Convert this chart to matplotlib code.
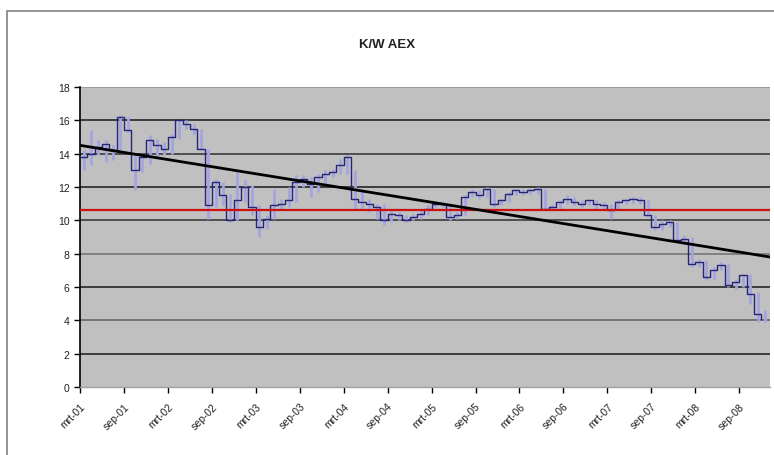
import matplotlib
matplotlib.use("Agg")
import matplotlib.pyplot as plt
from matplotlib.patches import Rectangle
import numpy as np

plt.rcParams['font.family'] = ['Liberation Sans', 'DejaVu Sans']

title = "K/W AEX"
tick_labels = ["mrt-01", "sep-01", "mrt-02", "sep-02", "mrt-03", "sep-03",
               "mrt-04", "sep-04", "mrt-05", "sep-05", "mrt-06", "sep-06",
               "mrt-07", "sep-07", "mrt-08", "sep-08"]

# monthly values, Mar 2001 .. Dec 2008
closes = [13.8, 14.0, 14.4, 14.6, 14.2, 16.2, 15.4, 13.0, 13.8, 14.8,
          14.5, 14.3, 15.0, 16.0, 15.8, 15.5, 14.3, 10.9, 12.3, 11.5,
          10.0, 11.2, 12.0, 10.8, 9.6, 10.1, 10.9, 11.0, 11.2, 12.3,
          12.5, 12.2, 12.6, 12.8, 12.9, 13.3, 13.8, 11.3, 11.1, 11.0,
          10.8, 10.0, 10.4, 10.3, 10.0, 10.2, 10.4, 10.7, 11.0, 11.0,
          10.2, 10.3, 11.4, 11.7, 11.5, 11.9, 11.0, 11.2, 11.6, 11.8,
          11.7, 11.8, 11.9, 10.7, 10.8, 11.1, 11.3, 11.1, 11.0, 11.2,
          11.0, 10.9, 10.6, 11.1, 11.2, 11.3, 11.2, 10.3, 9.6, 9.8,
          9.9, 8.8, 8.9, 7.4, 7.5, 6.6, 7.0, 7.3, 6.1, 6.3,
          6.7, 5.6, 4.4, 4.1]
highs = [14.2, 15.4, 14.8, 14.8, 14.5, 16.3, 16.2, 13.9, 14.0, 15.1,
         14.9, 14.7, 15.2, 16.0, 16.0, 15.8, 15.5, 14.3, 12.5, 12.3,
         11.6, 13.0, 12.4, 12.1, 10.9, 10.3, 11.9, 11.3, 12.0, 12.7,
         12.7, 12.6, 12.8, 13.0, 13.1, 13.7, 13.9, 13.0, 11.9, 11.3,
         11.0, 11.0, 10.6, 10.5, 10.3, 10.4, 10.6, 10.9, 11.1, 11.1,
         11.0, 10.5, 11.5, 11.9, 11.8, 12.0, 11.9, 11.3, 11.7, 11.9,
         11.9, 11.9, 12.0, 11.9, 11.0, 11.2, 11.5, 11.4, 11.2, 11.3,
         11.2, 11.1, 11.0, 11.2, 11.3, 11.4, 11.4, 11.2, 10.3, 10.0,
         10.0, 9.9, 9.1, 9.0, 7.7, 7.6, 7.2, 7.5, 7.4, 6.5,
         6.8, 6.8, 5.7, 4.6]
lows = [13.0, 13.3, 13.9, 13.5, 13.6, 14.1, 15.3, 11.8, 12.9, 13.4,
        13.7, 13.9, 14.0, 14.9, 15.5, 15.2, 14.2, 10.1, 10.8, 10.9,
        9.9, 10.0, 11.1, 10.3, 9.0, 9.5, 10.1, 10.7, 10.8, 11.1,
        12.0, 11.4, 11.7, 12.2, 12.6, 12.8, 12.8, 10.7, 10.7, 10.5,
        10.1, 9.7, 9.9, 10.0, 9.9, 10.0, 10.1, 10.3, 10.8, 10.8,
        10.0, 10.1, 10.3, 11.4, 11.3, 11.4, 10.8, 10.9, 11.1, 11.5,
        11.5, 11.6, 11.6, 10.6, 10.6, 10.7, 11.0, 10.9, 10.8, 10.9,
        10.7, 10.6, 10.1, 10.7, 11.0, 11.0, 11.0, 10.2, 9.4, 9.4,
        9.6, 8.7, 8.6, 7.2, 7.2, 6.4, 6.5, 7.0, 6.0, 5.9,
        6.0, 5.0, 3.9, 3.9]

mean_level = 10.65
trend_start = 14.5
trend_end = 7.8

fig = plt.figure(figsize=(7.74, 4.56), dpi=100)
fig.patch.set_facecolor('white')
# outer chart border
fig.patches.append(Rectangle((7/774, -0.05), 1.0, 1 - 12/456 + 0.05,
                             transform=fig.transFigure, fill=False,
                             edgecolor='#808080', linewidth=1.2))

ax = fig.add_axes([80/774, 1 - 388/456, 690/774, 300/456])
ax.set_facecolor('#c0c0c0')

n = len(closes)
x = np.arange(n)
xmax = 94.2

grid_colors = {2: '#1a1a1a', 4: '#606060', 6: '#1a1a1a', 8: '#707070',
               10: '#303030', 12: '#1a1a1a', 14: '#303030', 16: '#1a1a1a',
               18: '#909090'}
for yv in range(2, 19, 2):
    ax.axhline(yv, color=grid_colors[yv], linewidth=1.1, zorder=1)

ax.vlines(x + 0.5, lows, highs, color='#a4a4e0', linewidth=2.0, zorder=2)
ax.step(x, closes, where='post', color='#262678', linewidth=1.0, zorder=3)

ax.plot([0, xmax], [mean_level, mean_level], color='#cc1111', linewidth=1.6, zorder=4)
ax.plot([0, xmax], [trend_start, trend_end], color='black', linewidth=2.0, zorder=5)

ax.set_xlim(0, xmax)
ax.set_ylim(0, 18)
ax.set_yticks(range(0, 19, 2))
ax.set_yticklabels([str(v) for v in range(0, 19, 2)], fontsize=7.5, color='#222222')
ax.set_xticks(np.arange(0, 6 * len(tick_labels), 6))
ax.set_xticklabels(tick_labels, rotation=45, ha='right', rotation_mode='anchor',
                   fontsize=7.5, color='#222222')
ax.tick_params(axis='both', direction='out', length=4, width=1.0, color='black')
ax.tick_params(axis='x', pad=6)

for side in ['top', 'right']:
    ax.spines[side].set_visible(False)
ax.spines['left'].set_color('black')
ax.spines['left'].set_linewidth(1.2)
ax.spines['bottom'].set_color('#a0a0a0')
ax.spines['bottom'].set_linewidth(1.0)

fig.text(0.5, 1 - 45/456, title, ha='center', va='center',
         fontsize=9.5, fontweight='bold', color='#222222')

fig.savefig('out.png', dpi=100)
